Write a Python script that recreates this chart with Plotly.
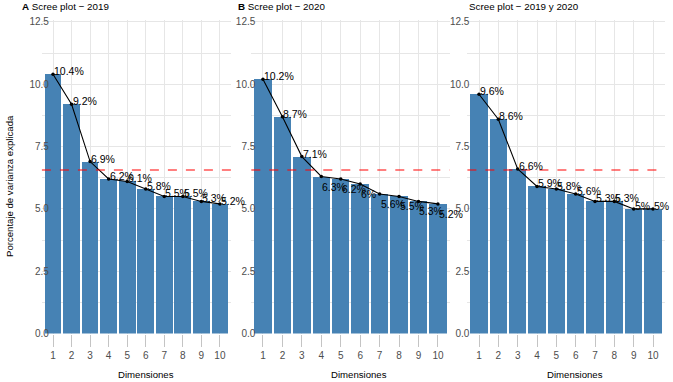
import plotly.graph_objects as go

dims = list(range(1, 11))
tick_labels = [str(d) for d in dims]
var_2019 = [10.4, 9.2, 6.9, 6.2, 6.1, 5.8, 5.5, 5.5, 5.3, 5.2]
var_2020 = [10.2, 8.7, 7.1, 6.3, 6.2, 6.0, 5.6, 5.5, 5.3, 5.2]
var_both = [9.6, 8.6, 6.6, 5.9, 5.8, 5.6, 5.3, 5.3, 5.0, 5.0]
ref_line = 6.56
panel_titles = ["<b>A</b> Scree plot \u2212 2019", "<b>B</b> Scree plot \u2212 2020", "Scree plot \u2212 2019 y 2020"]
x_title = "Dimensiones"
y_title = "Porcentaje de varianza explicada"

W, H = 673, 382
FONT = "Liberation Sans, Arial, sans-serif"
BAR = "#4682B4"
GRID = "#e6e6e6"

def fmt(v):
    s = f"{v:.1f}"
    if s.endswith(".0"):
        s = s[:-2]
    return s + "%"

# pixel geometry of panels
x_dom_px = [(41.9, 231.0), (251.3, 449.6), (467.4, 664.6)]
y_bot_px, y_top_px = 333.5, 19.5
ydom = [1 - y_bot_px / H, 1 - y_top_px / H]
y_standoff = [-8, -5, -3]
title_x_px = [20, 236, 467]
xtitle_x_px = [146, 359, 575]

series = [var_2019, var_2020, var_both]
fig = go.Figure()
layout = dict(
    template="none",
    width=W, height=H, margin=dict(l=0, r=0, t=0, b=0, pad=0), autosize=False,
    paper_bgcolor="white", plot_bgcolor="white",
    showlegend=False, font=dict(family=FONT, color="black"),
    bargap=0,
)
annotations = []
shapes = []
for i, vals in enumerate(series):
    sfx = "" if i == 0 else str(i + 1)
    xa, ya = "x" + sfx, "y" + sfx
    fig.add_trace(go.Bar(x=dims, y=vals, width=0.9, marker=dict(color=BAR, line=dict(width=0)),
                         xaxis=xa, yaxis=ya, hoverinfo="skip"))
    fig.add_trace(go.Scatter(x=dims, y=vals, mode="lines+markers",
                             line=dict(color="black", width=1.1),
                             marker=dict(color="black", size=3.5),
                             xaxis=xa, yaxis=ya, hoverinfo="skip"))
    layout["xaxis" + sfx] = dict(
        domain=[x_dom_px[i][0] / W, x_dom_px[i][1] / W], anchor=ya, automargin=False,
        range=[0.4, 10.6], tickvals=dims, ticktext=tick_labels,
        showgrid=True, gridcolor=GRID, gridwidth=1, zeroline=False, showline=False,
        ticks="outside", ticklen=12, tickcolor="#c4c4c4", tickwidth=1,
        tickfont=dict(size=10, color="#4d4d4d", family=FONT),
    )
    layout["yaxis" + sfx] = dict(
        domain=ydom, anchor=xa, range=[0, 12.6], automargin=False,
        tickvals=[0, 2.5, 5, 7.5, 10, 12.5], tickformat=".1f",
        showgrid=True, gridcolor=GRID, gridwidth=1, zeroline=False, showline=False,
        minor=dict(dtick=1.25, tick0=0, showgrid=True, gridcolor=GRID, gridwidth=1),
        ticks="", ticklabelstandoff=y_standoff[i],
        tickfont=dict(size=10, color="#4d4d4d", family=FONT),
    )
    shapes.append(dict(type="line", xref=xa + " domain", yref=ya, x0=0, x1=1,
                       y0=ref_line, y1=ref_line,
                       line=dict(color="#ff0000", width=1.2, dash="dash"), layer="above"))
    for j, (d, v) in enumerate(zip(dims, vals)):
        below = (i == 1 and j >= 3)
        annotations.append(dict(x=d, y=v, xref=xa, yref=ya, text=fmt(v), showarrow=False,
                                xanchor="left", yanchor="middle", xshift=-1,
                                yshift=-10 if below else 3,
                                font=dict(size=10.5, color="black", family=FONT)))
    annotations.append(dict(x=title_x_px[i] / W, y=1 - 6.5 / H, xref="paper", yref="paper",
                            text=panel_titles[i], showarrow=False, xanchor="left", yanchor="middle",
                            font=dict(size=9.8, color="black", family=FONT)))
    annotations.append(dict(x=xtitle_x_px[i] / W, y=1 - 374 / H, xref="paper", yref="paper",
                            text=x_title, showarrow=False, xanchor="center", yanchor="middle",
                            font=dict(size=9.6, color="black", family=FONT)))

annotations.append(dict(x=9 / W, y=1 - 186 / H, xref="paper", yref="paper", text=y_title,
                        showarrow=False, textangle=-90, xanchor="center", yanchor="middle",
                        font=dict(size=9.6, color="black", family=FONT)))
layout["annotations"] = annotations
layout["shapes"] = shapes
fig.update_layout(**layout)
fig.write_html("out.html", config={"displayModeBar": False, "staticPlot": True},
               post_script="document.body.style.margin='0';document.body.style.padding='0';")
